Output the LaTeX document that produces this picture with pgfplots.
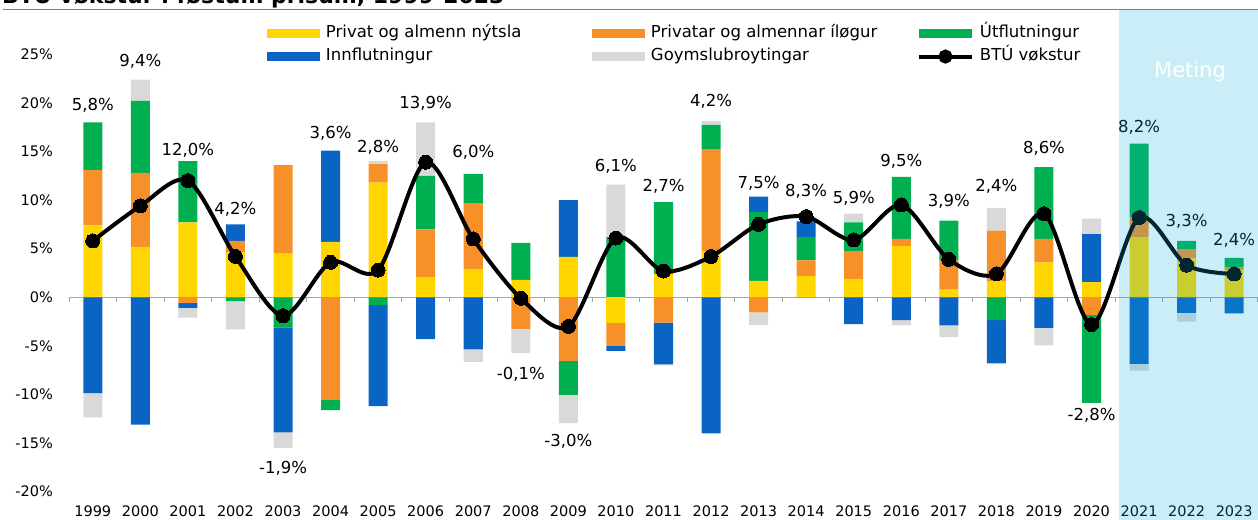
\documentclass[border=0pt]{standalone}
\usepackage{fontspec}
\setmainfont{DejaVu Sans}
\usepackage{pgfplots}
\usepackage{pgfplotstable}
\pgfplotsset{compat=1.18}
\definecolor{cY}{RGB}{255,214,0}
\definecolor{cO}{RGB}{247,144,40}
\definecolor{cG}{RGB}{0,176,80}
\definecolor{cB}{RGB}{10,100,196}
\definecolor{cGr}{RGB}{217,217,217}
\definecolor{shadec}{RGB}{14,174,223}
\definecolor{zeroc}{RGB}{166,166,166}

% positive contributions (percentage points)
\pgfplotstableread{
x Y O G B Gr
0 7.4 5.7 4.9 0 0
1 5.2 7.6 7.4 0 2.2
2 7.7 0 6.3 0 0
3 4.6 1.2 0 1.7 0
4 4.5 9.1 0 0 0
5 5.7 0 0 9.4 0
6 11.8 1.9 0 0 0.3
7 2.1 4.9 5.5 0 5.5
8 2.9 6.8 3.0 0 0
9 1.8 0 3.8 0 0
10 4.15 0 0 5.85 0
11 0 0 6.2 0 5.4
12 2.4 0 7.4 0 0
13 4.7 10.55 2.5 0 0.4
14 1.7 0 7.1 1.55 0
15 2.2 1.6 2.4 1.6 0
16 1.9 2.85 2.95 0 0.9
17 5.3 0.7 6.4 0 0
18 0.8 3.05 4.05 0 0
19 1.6 5.25 0 0 2.35
20 3.6 2.4 7.4 0 0
21 1.55 0 0 4.95 1.6
22 6.2 2.0 7.6 0 0
23 4.0 0.9 0.9 0 0
24 2.8 0.25 1.0 0 0
}\postab

% negative contributions
\pgfplotstableread{
x Y O G B Gr
0 0 0 0 -9.85 -2.5
1 0 0 0 -13.1 0
2 0 -0.6 0 -0.5 -1.0
3 0 0 -0.4 0 -2.9
4 0 0 -3.1 -10.8 -1.6
5 0 -10.5 -1.1 0 0
6 0 0 -0.8 -10.4 0
7 0 0 0 -4.3 0
8 0 0 0 -5.35 -1.3
9 0 -3.25 0 0 -2.5
10 0 -6.55 -3.5 0 -2.9
11 -2.6 -2.4 0 -0.5 0
12 0 -2.6 0 -4.3 -0.1
13 0 0 0 -14.0 0
14 0 -1.55 0 0 -1.3
15 0 0 0 0 0
16 0 0 0 -2.75 0
17 0 0 0 -2.35 -0.55
18 0 0 0 -2.9 -1.2
19 0 0 -2.35 -4.45 0
20 0 0 0 -3.15 -1.8
21 0 -1.8 -9.05 0 0
22 0 0 0 -6.85 -0.7
23 0 0 0 -1.6 -0.9
24 0 0 0 -1.65 0
}\negtab

% GDP growth and label positions
\pgfplotstableread{
x v ly
0 5.8 19.8
1 9.4 24.3
2 12.0 15.1
3 4.2 9.0
4 -1.9 -17.6
5 3.6 16.9
6 2.8 15.4
7 13.9 20.0
8 6.0 14.9
9 -0.1 -7.9
10 -3.0 -14.85
11 6.1 13.5
12 2.7 11.45
13 4.2 20.2
14 7.5 11.75
15 8.3 10.9
16 5.9 10.2
17 9.5 14.0
18 3.9 9.9
19 2.4 11.45
20 8.6 15.35
21 -2.8 -12.1
22 8.2 17.45
23 3.3 7.85
24 2.4 5.9
}\labtab

\pgfplotsset{
  common/.style={at={(69bp,28.3bp)}, anchor=south west, scale only axis,
    width=1189bp, height=437.4bp, xmin=-0.5, xmax=24.5, ymin=-20, ymax=25},
  barleg/.style={legend image code/.code={\fill[##1, draw=none] (0bp,-4.5bp) rectangle (53bp,4.5bp);}},
}
\newcommand{\tickfont}{\fontsize{14.5bp}{17bp}\selectfont}
\newcommand{\labfont}{\fontsize{16.5bp}{19bp}\selectfont}

\begin{document}
\begin{tikzpicture}
\useasboundingbox (0,0) rectangle (1258bp,520bp);
% positive stack + ticks
\begin{axis}[common, ybar stacked, bar width=0.4, clip=false,
  axis line style={draw=none}, major tick length=0pt,
  xtick={0,...,24},
  xticklabels={1999,2000,2001,2002,2003,2004,2005,2006,2007,2008,2009,2010,2011,2012,2013,2014,2015,2016,2017,2018,2019,2020,2021,2022,2023},
  ytick={-20,-15,...,25},
  yticklabel={\pgfmathprintnumber{\tick}\%},
  /pgf/number format/assume math mode=true,
  tick label style={font=\tickfont, text=black},
  yticklabel style={anchor=east, inner sep=0pt, xshift=-16bp},
  xticklabel style={anchor=north, inner sep=0pt, yshift=-14bp},
]
\draw[zeroc, line width=1.3bp] (axis cs:-0.5,0) -- (axis cs:24.5,0);
\pgfplotsinvokeforeach{-0.5,0.5,...,24.5}{
  \draw[zeroc, line width=1bp] (axis cs:#1,0) -- ([yshift=-5bp]axis cs:#1,0);
}
\addplot[fill=cY, draw=none] table[x=x, y=Y]{\postab};
\addplot[fill=cO, draw=none] table[x=x, y=O]{\postab};
\addplot[fill=cG, draw=none] table[x=x, y=G]{\postab};
\addplot[fill=cB, draw=none] table[x=x, y=B]{\postab};
\addplot[fill=cGr, draw=none] table[x=x, y=Gr]{\postab};
\end{axis}
% negative stack
\begin{axis}[common, ybar stacked, bar width=0.4, hide axis, clip=false]
\addplot[fill=cY, draw=none] table[x=x, y=Y]{\negtab};
\addplot[fill=cO, draw=none] table[x=x, y=O]{\negtab};
\addplot[fill=cG, draw=none] table[x=x, y=G]{\negtab};
\addplot[fill=cB, draw=none] table[x=x, y=B]{\negtab};
\addplot[fill=cGr, draw=none] table[x=x, y=Gr]{\negtab};
\end{axis}
% line, labels, legend
\begin{axis}[common, hide axis, clip=false,
  legend columns=3, legend cell align=left,
  legend style={at={(axis description cs:0.1665,1.0663)}, anchor=north west,
    draw=none, fill=none, inner sep=0pt, outer sep=0pt,
    row sep=8bp, column sep=0pt, font=\labfont,
    nodes={inner sep=0pt, text height=12bp, text depth=3.5bp},
    /tikz/every odd column/.append style={column sep=6bp}},
]
\addlegendimage{barleg, fill=cY, draw=none}
\addlegendimage{barleg, fill=cO, draw=none}
\addlegendimage{barleg, fill=cG, draw=none}
\addlegendimage{barleg, fill=cB, draw=none}
\addlegendimage{barleg, fill=cGr, draw=none}
\addplot[black, line width=4bp, smooth, mark=*, mark size=7bp,
  mark options={line width=0pt, fill=black, draw=black},
  legend image code/.code={\draw[black, line width=4bp] (0bp,0bp) -- (53bp,0bp);
     \fill[black] (26.5bp,0bp) circle (5bp);}]
  table[x=x, y=v]{\labtab};
\addplot[only marks, mark=*, mark size=0.1pt, mark options={draw=none, fill=none},
  point meta=explicit, forget plot,
  nodes near coords={\pgfmathprintnumber[fixed, fixed zerofill, precision=1, use comma, assume math mode=true]{\pgfplotspointmeta}\%},
  every node near coord/.append style={anchor=center, inner sep=0pt, font=\labfont, text=black}]
  table[x=x, y=ly, meta=v]{\labtab};
\legend{\makebox[266bp][l]{Privat og almenn nýtsla},\makebox[266bp][l]{Privatar og almennar íløgur},\makebox[266bp][l]{Útflutningur},\makebox[266bp][l]{Innflutningur},\makebox[266bp][l]{Goymslubroytingar},\makebox[266bp][l]{BTÚ vøkstur}}
\end{axis}
% forecast shading
\fill[shadec, fill opacity=0.22] (1119bp,0bp) rectangle (1258bp,510bp);
\node[text=white, font=\fontsize{21bp}{25bp}\selectfont] at (1190bp,448bp) {Meting};
% cut title and rule
\draw[gray, line width=1bp] (3bp,510.7bp) -- (1258bp,510.7bp);
\node[anchor=base west, inner sep=0pt, font=\bfseries\fontsize{22bp}{26bp}\selectfont] at (2bp,516bp) {BTÚ vøkstur í føstum prísum, 1999-2023};
\end{tikzpicture}
\end{document}
